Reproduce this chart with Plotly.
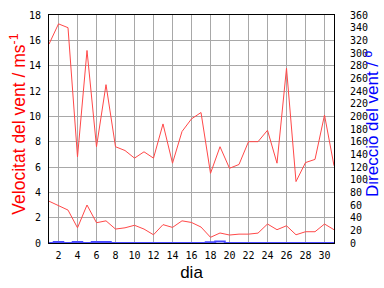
import plotly.graph_objects as go

dies = list(range(1, 32))
vent_max = [15.7, 17.3, 17.0, 6.8, 15.2, 7.6, 12.5, 7.6, 7.3, 6.7, 7.2, 6.7, 9.4, 6.3, 8.8,
            9.8, 10.3, 5.5, 7.6, 5.9, 6.2, 8.0, 8.0, 8.9, 6.3, 13.8, 4.85, 6.35, 6.6, 10.1, 6.1]
vent_mitja = [3.3, 2.95, 2.6, 1.2, 3.0, 1.6, 1.75, 1.1, 1.2, 1.4, 1.1, 0.65, 1.45, 1.23, 1.75,
              1.62, 1.26, 0.45, 0.79, 0.63, 0.7, 0.7, 0.78, 1.5, 1.05, 1.36, 0.65, 0.89, 0.89, 1.5, 1.05]
direccio = [0, 1.5, 0, 1.5, 0, 1.5, 1.5, 0, 0, 0, 0, 0, 0, 0, 0,
            0, 0, 1.0, 2.5, 0, 0, 0, 0, 0, 0, 0, 0, 0, 0, 0, 0]

red = "#ff4848"
blue = "#4848ff"
tickfont = dict(family="DejaVu Sans Mono", size=10, color="black")

fig = go.Figure()
fig.add_trace(go.Scatter(x=dies, y=direccio, yaxis="y2", mode="lines",
                         line=dict(color=blue, width=2, shape="hvh"), showlegend=False))
fig.add_trace(go.Scatter(x=dies, y=vent_max, mode="lines",
                         line=dict(color=red, width=1), showlegend=False))
fig.add_trace(go.Scatter(x=dies, y=vent_mitja, mode="lines",
                         line=dict(color=red, width=1), showlegend=False))

fig.update_layout(
    width=384, height=288,
    margin=dict(l=49, r=50, t=15, b=45),
    paper_bgcolor="white", plot_bgcolor="white",
    xaxis=dict(range=[1, 31], tick0=0, dtick=2, showgrid=True, gridcolor="#a8a8a8",
               gridwidth=1, showline=True, linecolor="black", linewidth=1, mirror=True,
               ticks="", tickfont=tickfont, zeroline=False, ticklabelstandoff=3,
               automargin=False,
               title=dict(text="dia", font=dict(family="Liberation Sans", size=17, color="black"),
                          standoff=6)),
    yaxis=dict(range=[0, 18], dtick=2, showgrid=True, gridcolor="#a8a8a8", gridwidth=1,
               showline=True, linecolor="black", linewidth=1, mirror=True, ticks="",
               tickfont=tickfont, zeroline=False, ticklabelstandoff=5, automargin=False),
    yaxis2=dict(range=[0, 360], dtick=20, overlaying="y", side="right", showgrid=False,
                showline=True, linecolor="black", linewidth=1, ticks="", tickfont=tickfont,
                zeroline=False, ticklabelstandoff=13, automargin=False),
    annotations=[
        dict(text="Velocitat del vent / ms<sup>-1</sup>", xref="paper", yref="paper",
             x=-0.11, y=0.522, xanchor="center", yanchor="middle", textangle=-90,
             showarrow=False, font=dict(family="Liberation Sans", size=17.5, color="red")),
        dict(text="Direcció del vent / º", xref="paper", yref="paper",
             x=1.137, y=0.522, xanchor="center", yanchor="middle", textangle=-90,
             showarrow=False, font=dict(family="Liberation Sans", size=17, color="blue")),
    ],
)

fig.write_html("out.html")
